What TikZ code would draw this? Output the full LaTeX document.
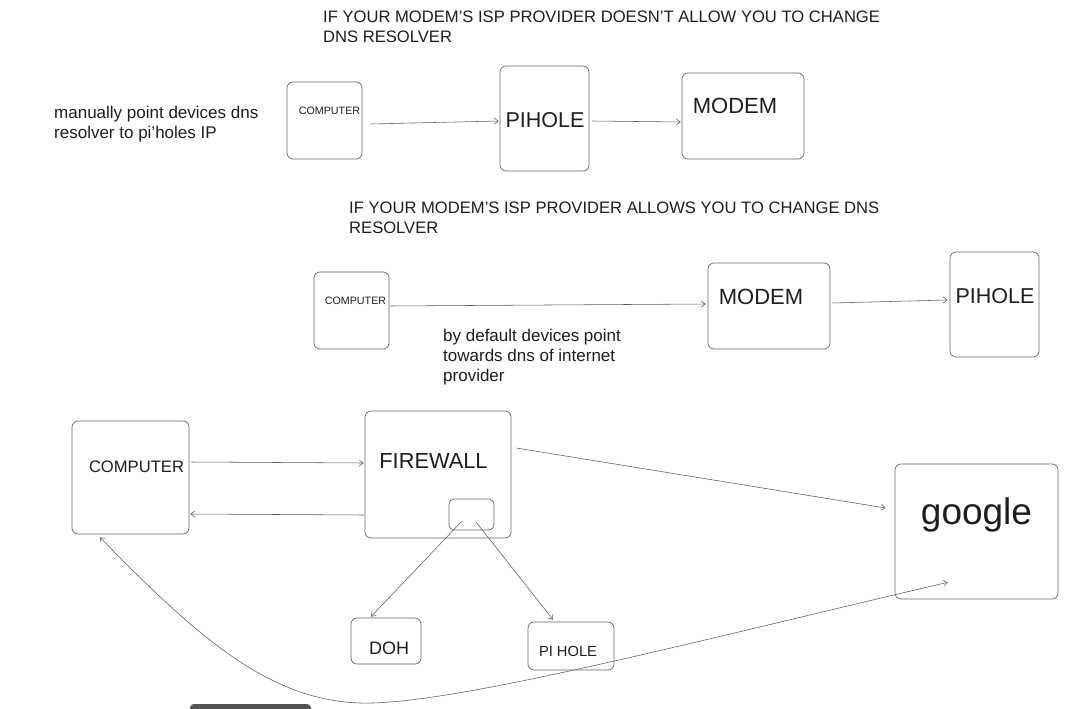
\documentclass[tikz,border=0pt]{standalone}
\usepackage{fontspec}
\setmainfont{Liberation Sans}
\usetikzlibrary{arrows.meta}
\definecolor{ink}{HTML}{1E1E1E}
\definecolor{boxc}{HTML}{666666}
\definecolor{linec}{HTML}{5A5A5A}
\definecolor{barc}{HTML}{555555}
\tikzset{
  box/.style={draw=boxc, line width=0.7pt, rounded corners=6pt, inner sep=0pt},
  lbl/.style={text=ink, inner sep=0pt, font=\fontsize{#1}{#1}\selectfont},
  para/.style={text=ink, inner sep=0pt, align=left, anchor=north west, font=\fontsize{#1}{20}\selectfont},
  arr/.style={draw=linec, line width=0.55pt, -{Straight Barb[length=4pt,width=6pt]}},
  darr/.style={draw=linec, line width=0.55pt, {Straight Barb[length=4pt,width=6pt]}-{Straight Barb[length=4pt,width=6pt]}}
}
\begin{document}
\begin{tikzpicture}[x=1pt,y=-1pt]
\useasboundingbox (0,0) rectangle (1087,709);
% titles and notes
\node[para=16.6] (title1) at (323,11) {IF YOUR MODEM'S ISP PROVIDER DOESN'T ALLOW YOU TO CHANGE\\DNS RESOLVER};
\node[para=16.6] (title2) at (349,202) {IF YOUR MODEM'S ISP PROVIDER ALLOWS YOU TO CHANGE DNS\\RESOLVER};
\node[para=17] (note1) at (54,106) {manually point devices dns\\resolver to pi'holes IP};
\node[para=17] (note2) at (443,329) {by default devices point\\towards dns of internet\\provider};
% row 1
\node[box, minimum width=75, minimum height=77] (comp1) at (324.5,120.5) {};
\node[lbl=10.7] (comp1t) at (329.5,110.5) {COMPUTER};
\node[box, minimum width=89, minimum height=105] (pihole1) at (544.5,118.5) {};
\node[lbl=21.5] (pihole1t) at (545,120) {PIHOLE};
\node[box, minimum width=122, minimum height=86] (modem1) at (743,116) {};
\node[lbl=22] (modem1t) at (735,105.5) {MODEM};
% row 2
\node[box, minimum width=75, minimum height=77] (comp2) at (351.5,310.5) {};
\node[lbl=10.7] (comp2t) at (355.5,300.5) {COMPUTER};
\node[box, minimum width=122, minimum height=86] (modem2) at (769,306) {};
\node[lbl=22] (modem2t) at (761,297) {MODEM};
\node[box, minimum width=89, minimum height=105] (pihole2) at (994.5,304.5) {};
\node[lbl=21.5] (pihole2t) at (995,296) {PIHOLE};
% row 3
\node[box, minimum width=117, minimum height=113] (comp3) at (130.5,477.5) {};
\node[lbl=16.6] (comp3t) at (136.5,467) {COMPUTER};
\node[box, minimum width=146, minimum height=127] (fw) at (438,474.5) {};
\node[lbl=21.8] (fwt) at (433.5,461) {FIREWALL};
\node[box, rounded corners=5pt, minimum width=45, minimum height=31] (fwsmall) at (471.5,514.5) {};
\node[box, minimum width=163, minimum height=135] (google) at (976.5,531.5) {};
\node[lbl=37, anchor=base] (googlet) at (976.5,524) {google};
\node[box, minimum width=70, minimum height=46] (doh) at (386,641) {};
\node[lbl=18] (doht) at (389,648) {DOH};
\node[box, minimum width=86, minimum height=48] (pih) at (571,646) {};
\node[lbl=14.7] (piht) at (568,651) {PI HOLE};
% connectors
\draw[arr] ([shift={(8,3.5)}]comp1.east) -- ([shift={(-1,2.5)}]pihole1.west);
\draw[arr] ([shift={(3,2.5)}]pihole1.east) -- ([shift={(-1,6)}]modem1.west);
\draw[arr] ([shift={(1,-4.5)}]comp2.east) -- ([shift={(-2,-2)}]modem2.west);
\draw[arr] ([shift={(2,-3)}]modem2.east) -- ([shift={(-2,-4.5)}]pihole2.west);
\draw[arr] ([shift={(2,-15.5)}]comp3.east) -- ([shift={(-1,-11.5)}]fw.west);
\draw[arr] ([shift={(-1,40.5)}]fw.west) -- ([shift={(1,36.5)}]comp3.east);
\draw[arr] ([shift={(5,-26.5)}]fw.east) -- ([shift={(-9,-23.5)}]google.west);
\draw[arr] ([shift={(-9.5,6.5)}]fwsmall.center) -- ([shift={(-15,-1)}]doh.north);
\draw[arr] ([shift={(4.5,7.5)}]fwsmall.center) -- ([shift={(-18,-2)}]pih.north);
\coordinate (curvelow) at (360,703);
\draw[darr] ([shift={(-30.5,3)}]comp3.south) .. controls (200,640) and (270,700) .. (curvelow)
  .. controls (450,706) and (700,640) .. ([shift={(53,-17)}]google.south west);
% bottom bar
\fill[barc, rounded corners=4pt] (190,704) rectangle (311,718);
\end{tikzpicture}
\end{document}
